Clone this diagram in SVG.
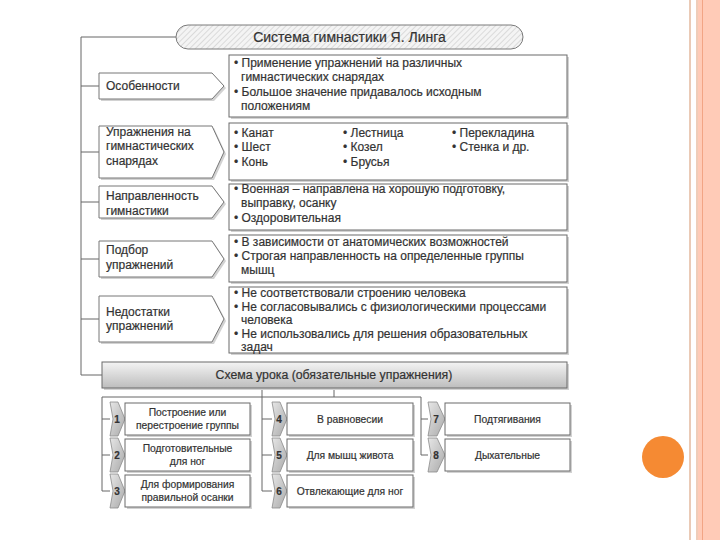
<svg xmlns="http://www.w3.org/2000/svg" width="720" height="540" viewBox="0 0 720 540">
<defs>
<pattern id="hatch" width="4" height="4" patternUnits="userSpaceOnUse" patternTransform="rotate(45)">
<rect width="4" height="4" fill="#f4f4f4"/>
<line x1="0" y1="0" x2="0" y2="4" stroke="#c9c9c9" stroke-width="1.2"/>
</pattern>
<linearGradient id="barg" x1="0" y1="0" x2="0" y2="1">
<stop offset="0" stop-color="#f4f4f4"/>
<stop offset="1" stop-color="#bdbdbd"/>
</linearGradient>
<linearGradient id="badg" x1="0" y1="0" x2="1" y2="1">
<stop offset="0" stop-color="#e6e6e6"/>
<stop offset="1" stop-color="#a9a9a9"/>
</linearGradient>
</defs>
<style>
text{font-family:"Liberation Sans",Arial,sans-serif;fill:#333;stroke:#333;stroke-width:0.2}
.t{font-size:12px}
.s{font-size:10.3px}
.c{text-anchor:middle}
.box{fill:#fff;stroke:#6a6a6a;stroke-width:1}
.sh{fill:#d2d2d2}
.lab{fill:#fff;stroke:#777;stroke-width:1}
.badge{fill:url(#badg);stroke:#8a8a8a;stroke-width:0.8}
.num{font-size:10px;font-weight:bold;text-anchor:middle;fill:#333}
.ln{fill:none;stroke:#666;stroke-width:1}
</style>
<rect width="720" height="540" fill="#fff"/>
<g id="decor">
<rect x="689" y="0" width="2" height="540" fill="#eacab6"/>
<rect x="696" y="0" width="2" height="540" fill="#efcdb9"/>
<rect x="698" y="0" width="22" height="540" fill="#ffcbb7"/>
<rect x="702" y="0" width="1" height="540" fill="#f2a585"/>
<circle cx="663" cy="457" r="21" fill="#f58a33"/>
</g>
<g id="connectors">
<path class="ln" d="M176,37 H81 V375 H102"/>
<path class="ln" d="M81,86 H99 M81,152 H99 M81,202 H99 M81,259 H99 M81,319 H99"/>
<path class="ln" d="M334,388 V397 M102,397 H421 M102,397 V491 M262,388 V491 M421,397 V455"/>
<path class="ln" d="M102,419 H110 M102,455 H110 M102,491 H110 M262,419 H272 M262,455 H272 M262,491 H272 M421,419 H428 M421,455 H428"/>
</g>
<g id="title">
<rect x="176" y="25" width="347" height="24" rx="12" fill="url(#hatch)" stroke="#7a7a7a"/>
<text x="349.5" y="42" class="c" style="font-size:14px">Система гимнастики Я. Линга</text>
</g>
<g id="label1">
<path class="sh" d="M101,75 H214 L226,88 L214,101 H101 Z"/>
<path class="lab" d="M99,73 H212 L224,86 L212,99 H99 Z"/>
<text x="106" y="90" class="t">Особенности</text>
</g>
<g id="content1">
<rect class="sh" x="231" y="57" width="338" height="62"/>
<rect class="box" x="229" y="55" width="338" height="62"/>
<text x="234" y="67" class="t">• Применение упражнений на различных</text>
<text x="241" y="81" class="t">гимнастических снарядах</text>
<text x="234" y="96" class="t">• Большое значение придавалось исходным</text>
<text x="241" y="110" class="t">положениям</text>
</g>
<g id="label2">
<path class="sh" d="M101,128 H214 L226,154 L214,180 H101 Z"/>
<path class="lab" d="M99,126 H212 L224,152 L212,178 H99 Z"/>
<text x="106" y="136" class="t">Упражнения на</text>
<text x="106" y="150" class="t">гимнастических</text>
<text x="106" y="165" class="t">снарядах</text>
</g>
<g id="content2">
<rect class="sh" x="231" y="125" width="338" height="57"/>
<rect class="box" x="229" y="123" width="338" height="57"/>
<text x="234" y="137" class="t">• Канат</text>
<text x="234" y="151" class="t">• Шест</text>
<text x="234" y="166" class="t">• Конь</text>
<text x="343" y="137" class="t">• Лестница</text>
<text x="343" y="151" class="t">• Козел</text>
<text x="343" y="166" class="t">• Брусья</text>
<text x="452" y="137" class="t">• Перекладина</text>
<text x="452" y="151" class="t">• Стенка и др.</text>
</g>
<g id="label3">
<path class="sh" d="M101,188 H214 L226,204 L214,220 H101 Z"/>
<path class="lab" d="M99,186 H212 L224,202 L212,218 H99 Z"/>
<text x="106" y="200" class="t">Направленность</text>
<text x="106" y="215" class="t">гимнастики</text>
</g>
<g id="content3">
<rect class="sh" x="231" y="186" width="338" height="46"/>
<rect class="box" x="229" y="184" width="338" height="46"/>
<text x="234" y="193" class="t">• Военная – направлена на хорошую подготовку,</text>
<text x="241" y="207" class="t">выправку, осанку</text>
<text x="234" y="222" class="t">• Оздоровительная</text>
</g>
<g id="label4">
<path class="sh" d="M101,243 H214 L226,261 L214,279 H101 Z"/>
<path class="lab" d="M99,241 H212 L224,259 L212,277 H99 Z"/>
<text x="106" y="254" class="t">Подбор</text>
<text x="106" y="269" class="t">упражнений</text>
</g>
<g id="content4">
<rect class="sh" x="231" y="237" width="338" height="47"/>
<rect class="box" x="229" y="235" width="338" height="47"/>
<text x="234" y="246" class="t">• В зависимости от анатомических возможностей</text>
<text x="234" y="260" class="t">• Строгая направленность на определенные группы</text>
<text x="241" y="274" class="t">мышц</text>
</g>
<g id="label5">
<path class="sh" d="M101,298 H214 L226,321 L214,344 H101 Z"/>
<path class="lab" d="M99,296 H212 L224,319 L212,342 H99 Z"/>
<text x="106" y="316" class="t">Недостатки</text>
<text x="106" y="330" class="t">упражнений</text>
</g>
<g id="content5">
<rect class="sh" x="231" y="289" width="338" height="66"/>
<rect class="box" x="229" y="287" width="338" height="66"/>
<text x="234" y="297" class="t">• Не соответствовали строению человека</text>
<text x="234" y="311" class="t">• Не согласовывались с физиологическими процессами</text>
<text x="241" y="324" class="t">человека</text>
<text x="234" y="338" class="t">• Не использовались для решения образовательных</text>
<text x="241" y="351" class="t">задач</text>
</g>
<g id="lesson">
<rect class="sh" x="104" y="364" width="465" height="26"/>
<rect x="102" y="362" width="465" height="26" fill="url(#barg)" stroke="#6a6a6a"/>
<text x="334" y="379" class="c" style="font-size:12.3px">Схема урока (обязательные упражнения)</text>
</g>
<g id="step1">
<path class="badge" d="M110,402 H118 L125,419 L118,436 H110 L113,419 Z"/>
<text x="117" y="423" class="num">1</text>
<rect class="sh" x="127" y="405" width="125" height="32"/>
<rect class="box" x="125" y="403" width="125" height="32"/>
<text x="187.5" y="416" class="s c">Построение или</text>
<text x="187.5" y="429" class="s c">перестроение группы</text>
</g>
<g id="step2">
<path class="badge" d="M110,438 H118 L125,455 L118,472 H110 L113,455 Z"/>
<text x="117" y="459" class="num">2</text>
<rect class="sh" x="127" y="441" width="125" height="32"/>
<rect class="box" x="125" y="439" width="125" height="32"/>
<text x="187.5" y="452" class="s c">Подготовительные</text>
<text x="187.5" y="465" class="s c">для ног</text>
</g>
<g id="step3">
<path class="badge" d="M110,474 H118 L125,491 L118,508 H110 L113,491 Z"/>
<text x="117" y="495" class="num">3</text>
<rect class="sh" x="127" y="477" width="125" height="32"/>
<rect class="box" x="125" y="475" width="125" height="32"/>
<text x="187.5" y="488" class="s c">Для формирования</text>
<text x="187.5" y="501" class="s c">правильной осанки</text>
</g>
<g id="step4">
<path class="badge" d="M272,402 H280 L287,419 L280,436 H272 L275,419 Z"/>
<text x="279" y="423" class="num">4</text>
<rect class="sh" x="289" y="405" width="126" height="32"/>
<rect class="box" x="287" y="403" width="126" height="32"/>
<text x="350" y="423" class="s c">В равновесии</text>
</g>
<g id="step5">
<path class="badge" d="M272,438 H280 L287,455 L280,472 H272 L275,455 Z"/>
<text x="279" y="459" class="num">5</text>
<rect class="sh" x="289" y="441" width="126" height="32"/>
<rect class="box" x="287" y="439" width="126" height="32"/>
<text x="350" y="459" class="s c">Для мышц живота</text>
</g>
<g id="step6">
<path class="badge" d="M272,474 H280 L287,491 L280,508 H272 L275,491 Z"/>
<text x="279" y="495" class="num">6</text>
<rect class="sh" x="289" y="477" width="126" height="32"/>
<rect class="box" x="287" y="475" width="126" height="32"/>
<text x="350" y="495" class="s c">Отвлекающие для ног</text>
</g>
<g id="step7">
<path class="badge" d="M428,402 H437 L445,419 L437,436 H428 L431,419 Z"/>
<text x="436" y="423" class="num">7</text>
<rect class="sh" x="447" y="405" width="125" height="32"/>
<rect class="box" x="445" y="403" width="125" height="32"/>
<text x="507.5" y="423" class="s c">Подтягивания</text>
</g>
<g id="step8">
<path class="badge" d="M428,438 H437 L445,455 L437,472 H428 L431,455 Z"/>
<text x="436" y="459" class="num">8</text>
<rect class="sh" x="447" y="441" width="125" height="32"/>
<rect class="box" x="445" y="439" width="125" height="32"/>
<text x="507.5" y="459" class="s c">Дыхательные</text>
</g>
</svg>
